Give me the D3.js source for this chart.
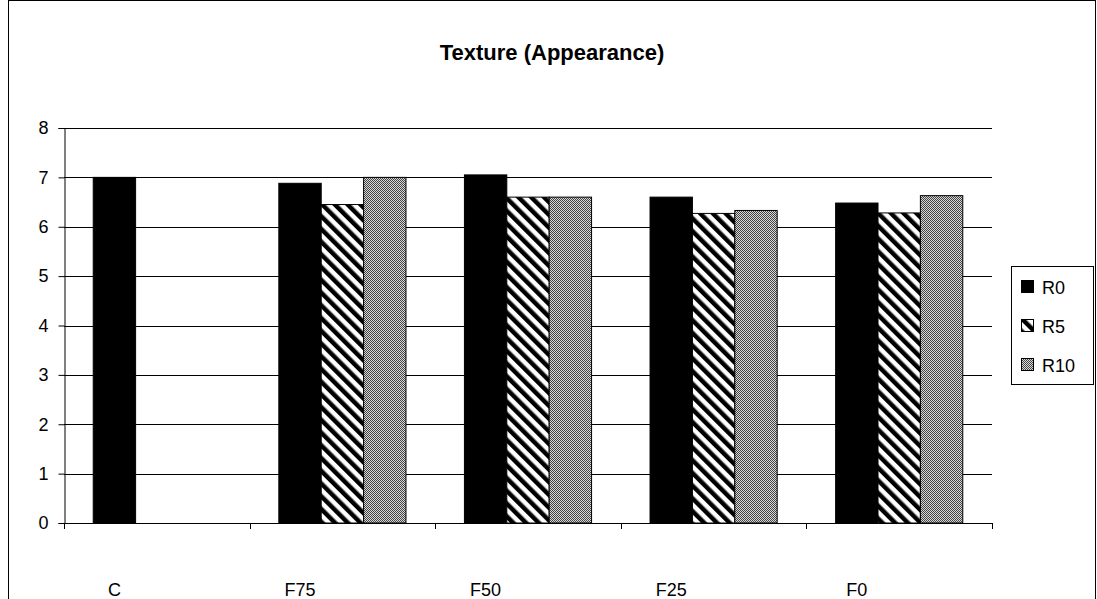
<!DOCTYPE html>
<html><head><meta charset="utf-8">
<script src="https://cdn.jsdelivr.net/npm/d3@7/dist/d3.min.js"></script>
<style>body{margin:0;background:#fff}svg{display:block;font-family:"Liberation Sans",Arial,sans-serif}</style>
</head><body><svg id="c" width="1097" height="599"></svg>
<script>
const categories = ["C","F75","F50","F25","F0"];
const seriesNames = ["R0","R5","R10"];
const R0 = [7.0, 6.88, 7.05, 6.6, 6.48];
const R5 = [null, 6.45, 6.6, 6.27, 6.28];
const R10 = [null, 7.0, 6.6, 6.33, 6.63];
const yTicks = [0,1,2,3,4,5,6,7,8];
const title = "Texture (Appearance)";

const values = [R0, R5, R10];
const svg = d3.select("#c");
const defs = svg.append("defs");
// hatch pattern (stripes running down-right)
const ph = defs.append("pattern").attr("id","hatch").attr("patternUnits","userSpaceOnUse")
  .attr("width",9).attr("height",9).attr("patternTransform","rotate(-45)");
ph.append("rect").attr("width",9).attr("height",9).attr("fill","#fff");
ph.append("rect").attr("x",0).attr("width",4.5).attr("height",9).attr("fill","#000");
// checker pattern
const pc = defs.append("pattern").attr("id","check").attr("patternUnits","userSpaceOnUse")
  .attr("width",2).attr("height",2);
pc.append("rect").attr("width",2).attr("height",2).attr("fill","#d8d8d8");
pc.append("rect").attr("x",0).attr("y",0).attr("width",1).attr("height",1).attr("fill","#444");
pc.append("rect").attr("x",1).attr("y",1).attr("width",1).attr("height",1).attr("fill","#444");
const fills = ["#000","url(#hatch)","url(#check)"];

// outer border
svg.append("rect").attr("x",8.5).attr("y",0.5).attr("width",1087).attr("height",640)
  .attr("fill","none").attr("stroke","#000");

const L = 64, R = 992, T = 128, B = 523;
const x0 = d3.scaleBand().domain(categories).range([L,R]).paddingInner(0.315).paddingOuter(0.1575);
const x1 = d3.scaleBand().domain(seriesNames).range([0,x0.bandwidth()]);
const y = d3.scaleLinear().domain([0,8]).range([B,T]);

// gridlines
svg.append("g").selectAll("line").data(yTicks.filter(d=>d>0)).join("line")
  .attr("x1",L).attr("x2",R).attr("y1",d=>Math.round(y(d))+0.5).attr("y2",d=>Math.round(y(d))+0.5)
  .attr("stroke","#000").attr("stroke-width",1);

// bars
const g = svg.append("g");
categories.forEach((c,i)=>{
  seriesNames.forEach((s,j)=>{
    const v = values[j][i];
    if(v==null) return;
    g.append("rect").attr("x",x0(c)+x1(s)).attr("y",y(v))
      .attr("width",x1.bandwidth()).attr("height",B-y(v))
      .attr("fill",fills[j]).attr("stroke","#000").attr("stroke-width",1);
  });
});

// y axis
const ya = svg.append("g").attr("transform",`translate(${L+0.5},0)`)
  .call(d3.axisLeft(y).tickValues(yTicks).tickSize(6).tickPadding(10).tickFormat(d3.format("d")));
ya.selectAll("text").attr("font-size",18).attr("fill","#000").attr("font-family","Liberation Sans, Arial, sans-serif");
ya.selectAll("line,path").attr("stroke","#000");

// x axis
svg.append("line").attr("x1",L).attr("x2",R).attr("y1",B+0.5).attr("y2",B+0.5).attr("stroke","#000");
const bounds = categories.map(c=>x0(c)-x0.step()*0.1575).concat([R]);
svg.append("g").selectAll("line").data(bounds).join("line")
  .attr("x1",d=>Math.round(d)+0.5).attr("x2",d=>Math.round(d)+0.5).attr("y1",B).attr("y2",B+6).attr("stroke","#000");
svg.append("g").selectAll("text").data(categories).join("text")
  .attr("x",c=>x0(c)+x1("R0")+x1.bandwidth()/2).attr("y",B+73)
  .attr("text-anchor","middle").attr("font-size",18).text(c=>c);

// title
svg.append("text").attr("x",552).attr("y",60).attr("text-anchor","middle")
  .attr("font-size",22).attr("font-weight","bold").text(title);

// legend
const lg = svg.append("g");
lg.append("rect").attr("x",1011.5).attr("y",266.5).attr("width",82).attr("height",118)
  .attr("fill","#fff").attr("stroke","#000");
seriesNames.forEach((s,j)=>{
  const cy = 287 + j*39;
  lg.append("rect").attr("x",1021.5).attr("y",cy-6.5).attr("width",12).attr("height",12)
    .attr("fill",fills[j]).attr("stroke","#000");
  lg.append("text").attr("x",1042).attr("y",cy+7).attr("font-size",18).text(s);
});
</script></body></html>
